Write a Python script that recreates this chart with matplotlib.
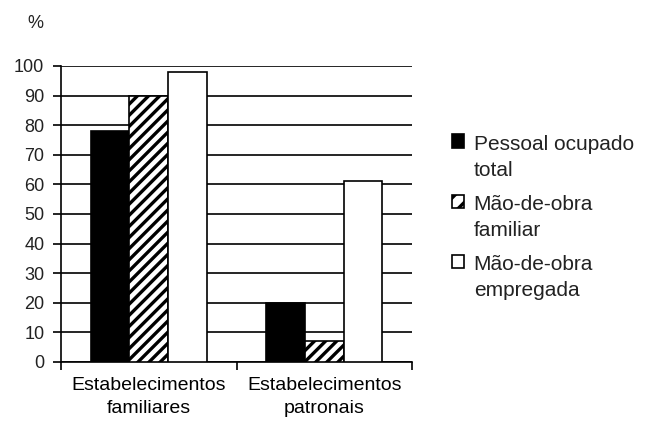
import matplotlib
matplotlib.use('Agg')
import matplotlib.pyplot as plt
from matplotlib.patches import Patch, Rectangle
from matplotlib.legend_handler import HandlerPatch
import numpy as np

# --- data ---
categories = ['Estabelecimentos\nfamiliares', 'Estabelecimentos\npatronais']
series_names = ['Pessoal ocupado\ntotal', 'Mão-de-obra\nfamiliar', 'Mão-de-obra\nempregada']
pessoal_total = [78, 20]
mao_familiar = [90, 7]
mao_empregada = [98, 61]
y_ticks = list(range(0, 101, 10))

plt.rcParams['font.family'] = ['Liberation Sans', 'DejaVu Sans']
plt.rcParams['hatch.linewidth'] = 2.4
plt.rcParams['text.color'] = '#222222'

fig = plt.figure(figsize=(6.52, 4.24), dpi=100)
ax = fig.add_axes([61 / 652, 1 - 362 / 424, 351 / 652, 296 / 424])

x = np.arange(len(categories))
w = 0.22
styles = [dict(color='black', edgecolor='black'),
          dict(color='white', edgecolor='black', hatch='///'),
          dict(color='white', edgecolor='black')]
for i, (vals, st) in enumerate(zip([pessoal_total, mao_familiar, mao_empregada], styles)):
    ax.bar(x + (i - 1) * w, vals, w, linewidth=1.2, zorder=3, **st)

ax.set_xlim(-0.5, len(categories) - 0.5)
ax.set_ylim(0, 100)
ax.set_yticks(y_ticks)
ax.tick_params(axis='y', labelsize=13, length=6, width=1.2, pad=6, colors='black', labelcolor='#222222')
ax.yaxis.grid(True, color='black', linewidth=1.2, zorder=0)
ax.set_axisbelow(True)

# boundary ticks (major) and category labels (minor)
ax.set_xticks(np.arange(len(categories) + 1) - 0.5)
ax.set_xticklabels([])
ax.set_xticks(x, minor=True)
ax.set_xticklabels(categories, minor=True, fontsize=14, linespacing=1.45)
ax.tick_params(axis='x', which='major', length=6, width=1.2)
ax.tick_params(axis='x', which='minor', length=0, pad=11)

for s in ['top', 'right']:
    ax.spines[s].set_visible(False)
for s in ['left', 'bottom']:
    ax.spines[s].set_linewidth(1.2)

fig.text(35 / 652, 1 - 23 / 424, '%', fontsize=13, va='center', ha='center')


def top_square(legend, orig_handle, xdescent, ydescent, width, height, fontsize):
    shift = 0.78 * fontsize
    return Rectangle((-xdescent, -ydescent + shift), width, height)


handles = [Patch(facecolor=st['color'], edgecolor='black', hatch='//' if st.get('hatch') else None,
                 linewidth=1.2)
           for st in styles]
leg = fig.legend(handles, series_names, loc='upper left',
                 bbox_to_anchor=(433 / 652, 1 - 116 / 424), frameon=False,
                 fontsize=15, handlelength=0.6, handleheight=0.6, handletextpad=0.45,
                 labelspacing=0.74,
                 handler_map={Patch: HandlerPatch(patch_func=top_square)})
for t in leg.get_texts():
    t.set_linespacing(1.45)

fig.savefig('out.png', dpi=100)
